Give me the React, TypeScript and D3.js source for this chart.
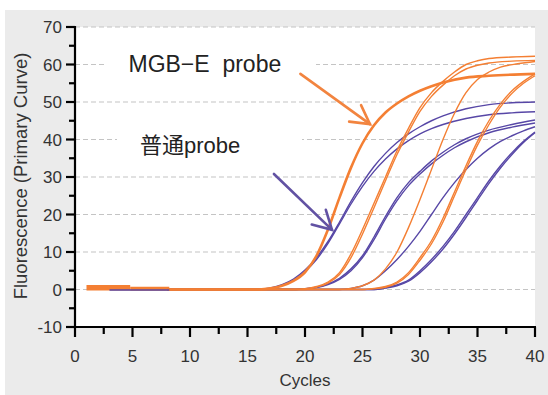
import React, { useEffect, useRef } from 'react';
import * as d3 from 'd3';

const width = 548;
const height = 395;
const padding = { left: 75, right: 13, top: 27, down: 68 };

const xTicks = [0, 5, 10, 15, 20, 25, 30, 35, 40];
const xMinorTicks = [2.5, 7.5, 12.5, 17.5, 22.5, 27.5, 32.5, 37.5];
const yTicks = [-10, 0, 10, 20, 30, 40, 50, 60, 70];
const yMinorTicks = [-5, 5, 15, 25, 35, 45, 55, 65];
const gridValues = [0, 10, 20, 30, 40, 50, 60, 70];

// early noisy cycles (before baseline)
const orangeEarly1 = [[1, 0.45], [4.8, 0.45]];
const orangeEarly2 = [[4.8, 0.2], [8.2, 0.2]];
const purpleEarly = [[3, -0.15], [8.2, -0.15]];

// MGB-E probe curves (cycle, fluorescence)
const orangeA = [[8, 0], [16, 0], [17, 0.3], [18, 1], [19, 2.3], [20, 4.6], [21, 9], [22, 16], [23, 24.5], [24, 32.5], [25, 39], [26, 43.8], [27, 47.2], [28, 49.6], [29, 51.5], [30, 53], [31, 54.2], [32, 55.2], [34, 56.5], [36, 57], [40, 57.5]];
const orangeB1 = [[8, 0], [19, 0], [20, 0.2], [21, 0.8], [22, 2], [23, 4.5], [24, 9.5], [25, 16], [26, 23], [27, 30], [28, 37], [29, 43], [30, 48.5], [31, 52.5], [32, 55.5], [33, 58], [34, 60], [35, 61], [36, 61.6], [38, 62], [40, 62.2]];
const orangeB2 = [[8, 0], [20, 0], [21, 0.6], [22, 1.7], [23, 4], [24, 8.5], [25, 14.8], [26, 21.8], [27, 29], [28, 36], [29, 42], [30, 47.5], [31, 51.5], [32, 54.5], [33, 57], [34, 58.8], [35, 59.8], [36, 60.4], [38, 60.9], [40, 61.1]];
const orangeC = [[8, 0], [23, 0], [24, 0.3], [25, 1], [26, 2.5], [27, 5.5], [28, 10], [29, 16.5], [30, 24], [31, 32], [32, 40], [33, 47], [34, 52.5], [35, 56], [36, 58], [37, 59.3], [38.5, 60.2], [40, 60.8]];
const orangeD1 = [[8, 0], [25, 0], [26, 0.3], [27, 0.8], [28, 2], [29, 4.5], [30, 8.5], [31, 13], [32, 19], [33, 26], [34, 33], [35, 39.5], [36, 45], [37, 49.5], [38, 53], [39, 55.5], [40, 57.5]];
const orangeD2 = [[8, 0], [25, 0], [26, 0.2], [27, 0.6], [28, 1.7], [29, 4], [30, 7.8], [31, 12.2], [32, 18], [33, 25], [34, 32], [35, 38.5], [36, 44], [37, 48.7], [38, 52.3], [39, 55], [40, 57]];

// normal probe curves
const purpleP1a = [[8, 0], [16, 0], [17, 0.4], [18, 1.3], [19, 2.8], [20, 5.2], [21, 8.5], [22, 12.8], [23, 18], [24, 23.5], [25, 28.5], [26, 32.8], [27, 36.3], [28, 39.2], [29, 41.5], [30, 43.4], [31, 45], [32, 46.3], [34, 48.2], [36, 49.3], [38, 49.8], [40, 50]];
const purpleP1b = [[8, 0], [16, 0], [17, 0.3], [18, 1.1], [19, 2.5], [20, 4.8], [21, 8], [22, 12.3], [23, 17.5], [24, 22.8], [25, 27.5], [26, 31.5], [27, 34.8], [28, 37.5], [29, 39.7], [30, 41.5], [31, 42.9], [32, 44], [34, 45.6], [36, 46.6], [38, 47.1], [40, 47.4]];
const purpleP2a = [[8, 0], [19, 0], [20, 0.2], [21, 0.6], [22, 1.5], [23, 3], [24, 5.5], [25, 9], [26, 14], [27, 19.5], [28, 24.5], [29, 28.5], [30, 31.5], [31, 34.3], [32, 36.6], [33, 38.6], [34, 40.2], [36, 42.5], [38, 44], [40, 45.2]];
const purpleP2b = [[8, 0], [19, 0], [20, 0.2], [21, 0.5], [22, 1.3], [23, 2.7], [24, 5], [25, 8.5], [26, 13.3], [27, 18.8], [28, 23.7], [29, 27.7], [30, 30.8], [31, 33.5], [32, 35.8], [33, 37.8], [34, 39.4], [36, 41.8], [38, 43.3], [40, 44.4]];
const purpleP3 = [[8, 0], [23, 0], [24, 0.3], [25, 1], [26, 2.5], [27, 5], [28, 8], [29, 11.5], [30, 15.5], [31, 20], [32, 24.5], [33, 28.5], [34, 32], [35, 35], [36, 37.5], [37, 39.5], [38, 41], [39, 42.3], [40, 43.4]];
const purpleP4a = [[8, 0], [26, 0], [27, 0.5], [28, 1.2], [29, 2.5], [30, 5], [31, 8], [32, 11.5], [33, 15.5], [34, 20], [35, 24.5], [36, 29], [37, 33], [38, 36.5], [39, 39.5], [40, 42]];
const purpleP4b = [[8, 0], [26, 0], [27, 0.4], [28, 1], [29, 2.2], [30, 4.5], [31, 7.4], [32, 10.8], [33, 14.8], [34, 19.2], [35, 23.8], [36, 28.3], [37, 32.4], [38, 36], [39, 39.2], [40, 41.8]];

const orangeCurves = [orangeB1, orangeB2, orangeC, orangeD1, orangeD2];
const purpleCurves = [purpleP1a, purpleP1b, purpleP2a, purpleP2b, purpleP3, purpleP4a, purpleP4b];

// annotations, in data units
const mgbLabel = { text: 'MGB−E  probe', x: 4.65, y: 57.9 };
const normalLabel = { text: '普通probe', x: 5.65, y: 36.4 };
const mgbArrow = { from: [19.6, 57.5], to: [25.65, 44.1] };
const normalArrow = { from: [17.3, 30.8], to: [22.35, 15.9] };

const orange = '#f47f33';
const purple = '#5747a6';
const font = 'Liberation Sans, Arial, sans-serif';

export default function App() {
  const ref = useRef(null);

  useEffect(() => {
    const svg = d3.select(ref.current);
    svg.selectAll('*').remove();

    const xScale = d3.scaleLinear()
      .domain([0, 40])
      .range([padding.left, width - padding.right]);
    const yScale = d3.scaleLinear()
      .domain([-10, 70])
      .range([height - padding.down, padding.top]);

    // gray frame
    svg.append('rect')
      .attr('x', 5).attr('y', 10)
      .attr('width', width - 5).attr('height', height - 10)
      .attr('fill', '#ebebeb');

    // white plot area
    svg.append('rect')
      .attr('x', xScale(0)).attr('y', yScale(70))
      .attr('width', xScale(40) - xScale(0))
      .attr('height', yScale(-10) - yScale(70))
      .attr('fill', '#fff');

    // dashed grid
    svg.append('g')
      .selectAll('line')
      .data(gridValues)
      .join('line')
      .attr('x1', xScale(0)).attr('x2', xScale(40))
      .attr('y1', d => yScale(d)).attr('y2', d => yScale(d))
      .attr('stroke', '#c4c4c4')
      .attr('stroke-width', 1.2)
      .attr('stroke-dasharray', '5,3');

    // label backgrounds hide the grid
    svg.append('rect')
      .attr('x', 105).attr('y', 48).attr('width', 211).attr('height', 36)
      .attr('fill', '#fff');
    svg.append('rect')
      .attr('x', 117).attr('y', 124).attr('width', 185).attr('height', 36)
      .attr('fill', '#fff');

    const line = d3.line()
      .x(d => xScale(d[0]))
      .y(d => yScale(d[1]))
      .curve(d3.curveMonotoneX);

    // early cycles
    svg.append('path').attr('d', line(orangeEarly1))
      .attr('fill', 'none').attr('stroke', orange).attr('stroke-width', 5.5);
    svg.append('path').attr('d', line(orangeEarly2))
      .attr('fill', 'none').attr('stroke', orange).attr('stroke-width', 4);

    // purple curves
    svg.append('g')
      .selectAll('path')
      .data(purpleCurves)
      .join('path')
      .attr('d', d => line(d))
      .attr('fill', 'none')
      .attr('stroke', purple)
      .attr('stroke-width', 1.4);

    // orange curves
    svg.append('g')
      .selectAll('path')
      .data(orangeCurves)
      .join('path')
      .attr('d', d => line(d))
      .attr('fill', 'none')
      .attr('stroke', orange)
      .attr('stroke-width', 1.4);

    svg.append('path').attr('d', line(orangeA))
      .attr('fill', 'none').attr('stroke', orange).attr('stroke-width', 2.6);

    svg.append('path').attr('d', line(purpleEarly))
      .attr('fill', 'none').attr('stroke', purple).attr('stroke-width', 1.5);

    // labels
    svg.append('text')
      .attr('x', xScale(mgbLabel.x)).attr('y', yScale(mgbLabel.y))
      .attr('font-family', font).attr('font-size', 23)
      .attr('fill', '#222')
      .style('white-space', 'pre')
      .text(mgbLabel.text);
    svg.append('text')
      .attr('x', xScale(normalLabel.x)).attr('y', yScale(normalLabel.y))
      .attr('font-family', 'Liberation Sans, Noto Sans CJK SC, sans-serif').attr('font-size', 22)
      .attr('fill', '#222')
      .text(normalLabel.text);

    // arrows
    const drawArrow = (arrow, color) => {
      const x1 = xScale(arrow.from[0]), y1 = yScale(arrow.from[1]);
      const x2 = xScale(arrow.to[0]), y2 = yScale(arrow.to[1]);
      const angle = Math.atan2(y1 - y2, x1 - x2);
      const arm = 21;
      const spread = 29 * Math.PI / 180;
      const g = svg.append('g')
        .attr('stroke', color)
        .attr('stroke-width', 2.6)
        .attr('stroke-linecap', 'round')
        .attr('fill', 'none');
      g.append('line').attr('x1', x1).attr('y1', y1).attr('x2', x2).attr('y2', y2);
      g.append('path').attr('d',
        `M${x2 + arm * Math.cos(angle - spread)},${y2 + arm * Math.sin(angle - spread)}` +
        `L${x2},${y2}` +
        `L${x2 + arm * Math.cos(angle + spread)},${y2 + arm * Math.sin(angle + spread)}`);
    };
    drawArrow(mgbArrow, '#f2843f');
    drawArrow(normalArrow, '#6252a3');

    // axes
    const axes = svg.append('g').attr('stroke', '#000').attr('stroke-width', 2.2);
    axes.append('line')
      .attr('x1', xScale(0)).attr('x2', xScale(0))
      .attr('y1', yScale(70) - 1).attr('y2', yScale(-10) + 1);
    axes.append('line')
      .attr('x1', xScale(0) - 1).attr('x2', xScale(40) + 1)
      .attr('y1', yScale(-10)).attr('y2', yScale(-10));

    axes.selectAll('.ymaj').data(yTicks).join('line')
      .attr('x1', xScale(0) - 9).attr('x2', xScale(0))
      .attr('y1', d => yScale(d)).attr('y2', d => yScale(d));
    axes.selectAll('.ymin').data(yMinorTicks).join('line')
      .attr('x1', xScale(0) - 6).attr('x2', xScale(0))
      .attr('y1', d => yScale(d)).attr('y2', d => yScale(d));
    axes.selectAll('.xmaj').data(xTicks).join('line')
      .attr('x1', d => xScale(d)).attr('x2', d => xScale(d))
      .attr('y1', yScale(-10)).attr('y2', yScale(-10) + 10);
    axes.selectAll('.xmin').data(xMinorTicks).join('line')
      .attr('x1', d => xScale(d)).attr('x2', d => xScale(d))
      .attr('y1', yScale(-10)).attr('y2', yScale(-10) + 7);

    // tick labels
    svg.append('g')
      .selectAll('text')
      .data(yTicks)
      .join('text')
      .attr('x', xScale(0) - 13)
      .attr('y', d => yScale(d))
      .attr('dy', '0.36em')
      .attr('text-anchor', 'end')
      .attr('font-family', font).attr('font-size', 17)
      .attr('fill', '#333')
      .text(d => d);
    svg.append('g')
      .selectAll('text')
      .data(xTicks)
      .join('text')
      .attr('x', d => xScale(d))
      .attr('y', 362)
      .attr('text-anchor', 'middle')
      .attr('font-family', font).attr('font-size', 17)
      .attr('fill', '#333')
      .text(d => d);

    // axis labels
    svg.append('text')
      .attr('x', (xScale(0) + xScale(40)) / 2)
      .attr('y', 386)
      .attr('text-anchor', 'middle')
      .attr('font-family', font).attr('font-size', 17)
      .attr('fill', '#333')
      .text('Cycles');
    svg.append('text')
      .attr('transform', `translate(27, ${(yScale(70) + yScale(-10)) / 2 - 1}) rotate(-90)`)
      .attr('text-anchor', 'middle')
      .attr('font-family', font).attr('font-size', 18.5)
      .attr('fill', '#333')
      .text('Fluorescence (Primary Curve)');
  }, []);

  return <svg ref={ref} width={width} height={height}
    style={{ position: 'absolute', left: 0, top: 0, display: 'block', background: '#fff' }} />;
}
